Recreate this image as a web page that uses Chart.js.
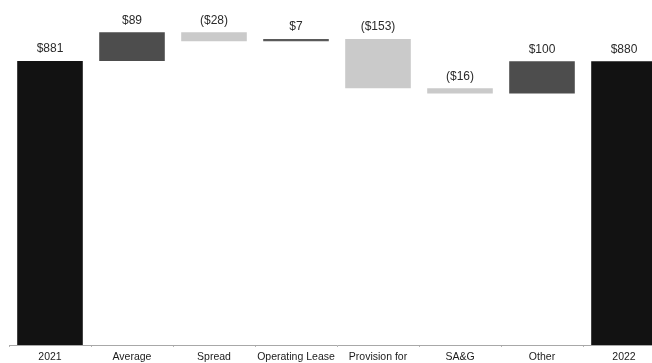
<!DOCTYPE html>
<html>
<head>
<meta charset="utf-8">
<script src="https://cdn.jsdelivr.net/npm/chart.js@4/dist/chart.umd.min.js"></script>
<style>
  html, body { margin: 0; padding: 0; background: #fff; overflow: hidden; }
  #wrap { position: absolute; left: 0; top: 0; width: 680px; height: 363px; }
</style>
</head>
<body>
<div id="wrap"><canvas id="c"></canvas></div>
<script>
// ---- data ----
const categories = ['2021', 'Average', 'Spread', 'Operating Lease', 'Provision for', 'SA&G', 'Other', '2022'];
const startTotal = 881;
const deltas = [89, -28, 7, -153, -16, 100];
const endTotal = 880;
const valueLabels = ['$881', '$89', '($28)', '$7', '($153)', '($16)', '$100', '$880'];
const yTicks = [0, 1000];

// ---- build floating bars (waterfall) ----
const floating = [[0, startTotal]];
const kinds = ['total'];
let running = startTotal;
deltas.forEach(d => {
  floating.push([running, running + d]);
  kinds.push(d >= 0 ? 'up' : 'down');
  running += d;
});
floating.push([0, endTotal]);
kinds.push('total');

const colorFor = { total: '#121212', up: '#4d4d4d', down: '#cacaca' };
const colors = kinds.map((k, i) => (categories[i] === 'Operating Lease') ? '#5a5a5a' : colorFor[k]);

const labelPlugin = {
  id: 'valueLabels',
  afterDatasetsDraw(chart) {
    const ctx = chart.ctx;
    const meta = chart.getDatasetMeta(0);
    ctx.save();
    ctx.font = '12px "Liberation Sans", Arial, sans-serif';
    ctx.fillStyle = '#2a2a2a';
    ctx.textAlign = 'center';
    ctx.textBaseline = 'middle';
    meta.data.forEach((bar, i) => {
      const top = Math.min(bar.y, bar.base);
      ctx.fillText(valueLabels[i], bar.x, top - 12);
    });
    ctx.restore();
  }
};

new Chart(document.getElementById('c'), {
  type: 'bar',
  data: {
    labels: categories,
    datasets: [{
      data: floating,
      backgroundColor: colors,
      borderWidth: 0,
      borderSkipped: false,
      barPercentage: 0.8,
      categoryPercentage: 1.0
    }]
  },
  options: {
    responsive: true,
    maintainAspectRatio: false,
    animation: false,
    layout: { padding: { left: 9, right: 15, top: 22.6, bottom: 0 } },
    plugins: { legend: { display: false }, tooltip: { enabled: false } },
    scales: {
      x: {
        grid: {
          display: true,
          drawOnChartArea: false,
          drawTicks: true,
          tickLength: 2,
          color: '#b5b5b5',
          offset: true
        },
        border: { display: true, color: '#a8a8a8', width: 1 },
        ticks: {
          color: '#1a1a1a',
          font: { family: '"Liberation Sans", Arial, sans-serif', size: 10.5 },
          padding: 4,
          maxRotation: 0,
          autoSkip: false
        },
        afterFit(scale) { scale.height = 18; }
      },
      y: {
        display: false,
        min: yTicks[0],
        max: yTicks[1]
      }
    }
  },
  plugins: [labelPlugin]
});
</script>
</body>
</html>
